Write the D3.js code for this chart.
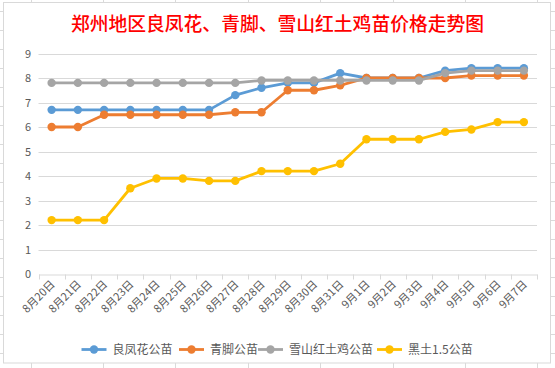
<!DOCTYPE html>
<html><head><meta charset="utf-8">
<script src="https://cdn.jsdelivr.net/npm/d3@7"></script>
<style>html,body{margin:0;padding:0;background:#fff;}svg{display:block;}</style>
</head><body>
<svg id="c" width="555" height="368"></svg>
<script>
const title = "郑州地区良凤花、青脚、雪山红土鸡苗价格走势图";
const categories = ["8月20日","8月21日","8月22日","8月23日","8月24日","8月25日","8月26日","8月27日","8月28日","8月29日","8月30日","8月31日","9月1日","9月2日","9月3日","9月4日","9月5日","9月6日","9月7日"];
const seriesNames = ["良凤花公苗","青脚公苗","雪山红土鸡公苗","黑土1.5公苗"];
const liangfenghua = [6.7,6.7,6.7,6.7,6.7,6.7,6.7,7.3,7.6,7.8,7.8,8.2,8.0,8.0,8.0,8.3,8.4,8.4,8.4];
const qingjiao     = [6.0,6.0,6.5,6.5,6.5,6.5,6.5,6.6,6.6,7.5,7.5,7.7,8.0,8.0,8.0,8.0,8.1,8.1,8.1];
const xueshanhong  = [7.8,7.8,7.8,7.8,7.8,7.8,7.8,7.8,7.9,7.9,7.9,7.9,7.9,7.9,7.9,8.2,8.3,8.3,8.3];
const heitu        = [2.2,2.2,2.2,3.5,3.9,3.9,3.8,3.8,4.2,4.2,4.2,4.5,5.5,5.5,5.5,5.8,5.9,6.2,6.2];
const yTicks = [0,1,2,3,4,5,6,7,8,9];
const colors = ["#5B9BD5","#ED7D31","#A5A5A5","#FFC000"];
const allSeries = [liangfenghua, qingjiao, xueshanhong, heitu];

const svg = d3.select("#c");
const W = 555, H = 368;

// spreadsheet background grid
const bg = svg.append("g");
for (let y = 11.5; y < H; y += 19) bg.append("line").attr("x1",0).attr("x2",W).attr("y1",y).attr("y2",y).attr("stroke","#DADADA");
for (let x = 30.5; x < W; x += 72.4) bg.append("line").attr("x1",Math.round(x)+0.5).attr("x2",Math.round(x)+0.5).attr("y1",0).attr("y2",H).attr("stroke","#DADADA");

// chart box
svg.append("rect").attr("x",3.5).attr("y",2.5).attr("width",547).attr("height",360.5)
  .attr("fill","#fff").attr("stroke","#D9D9D9");

// title
svg.append("text").attr("x",277.5).attr("y",31).attr("text-anchor","middle")
  .attr("font-family","Noto Sans CJK SC").attr("font-size","18.8px").attr("font-weight","500")
  .attr("fill","#FF0000").text(title);

const x = d3.scaleBand().domain(categories).range([38.5,537]);
const y = d3.scaleLinear().domain([0,9]).range([274,53.5]);

// gridlines
const grid = svg.append("g");
grid.selectAll("line").data(yTicks.filter(d=>d>0)).join("line")
  .attr("x1",38.5).attr("x2",537).attr("y1",d=>Math.round(y(d))+0.5).attr("y2",d=>Math.round(y(d))+0.5)
  .attr("stroke","#D9D9D9");

// y labels
svg.append("g").selectAll("text").data(yTicks).join("text")
  .attr("x",31).attr("y",d=>y(d)+4).attr("text-anchor","end")
  .attr("font-family","Noto Sans CJK SC, Noto Sans").attr("font-size","11px").attr("fill","#595959")
  .text(d=>d);

// x axis
const xAxis = d3.axisBottom(x).tickSize(0).tickFormat("");
const ax = svg.append("g").attr("transform",`translate(0,${Math.round(y(0))+0.5})`).call(xAxis);
ax.select(".domain").attr("stroke","#D9D9D9");
const bounds = categories.map((c)=>x(c)).concat([x.range()[1]]);
ax.selectAll(".tb").data(bounds).join("line").attr("class","tb")
  .attr("x1",d=>Math.round(d)+0.5).attr("x2",d=>Math.round(d)+0.5).attr("y1",0).attr("y2",5).attr("stroke","#D9D9D9");

// x labels
svg.append("g").selectAll("text").data(categories).join("text")
  .attr("transform",d=>`translate(${x(d)+x.bandwidth()/2+4},${285}) rotate(-45)`)
  .attr("text-anchor","end")
  .attr("font-family","Noto Sans CJK SC").attr("font-size","11px").attr("fill","#595959")
  .text(d=>d);

// lines
const line = d3.line().x((d,i)=>x(categories[i])+x.bandwidth()/2).y(d=>y(d));
allSeries.forEach((s,k)=>{
  const g = svg.append("g");
  g.append("path").datum(s).attr("d",line).attr("fill","none").attr("stroke",colors[k])
    .attr("stroke-width",2.8).attr("stroke-linejoin","round").attr("stroke-linecap","round");
  g.selectAll("circle").data(s).join("circle")
    .attr("cx",(d,i)=>x(categories[i])+x.bandwidth()/2).attr("cy",d=>y(d)).attr("r",4.2)
    .attr("fill",colors[k]);
});

// legend
const legX = [81.5, 179, 258, 377];
const leg = svg.append("g");
seriesNames.forEach((n,k)=>{
  const g = leg.append("g").attr("transform",`translate(${legX[k]},349.5)`);
  g.append("line").attr("x1",0).attr("x2",25).attr("y1",0).attr("y2",0).attr("stroke",colors[k]).attr("stroke-width",2.8);
  g.append("circle").attr("cx",12.5).attr("cy",0).attr("r",4.2).attr("fill",colors[k]);
  g.append("text").attr("x",31).attr("y",4.5).attr("font-family","Noto Sans CJK SC").attr("font-size","12px")
    .attr("fill","#595959").text(n);
});
</script>
</body></html>
